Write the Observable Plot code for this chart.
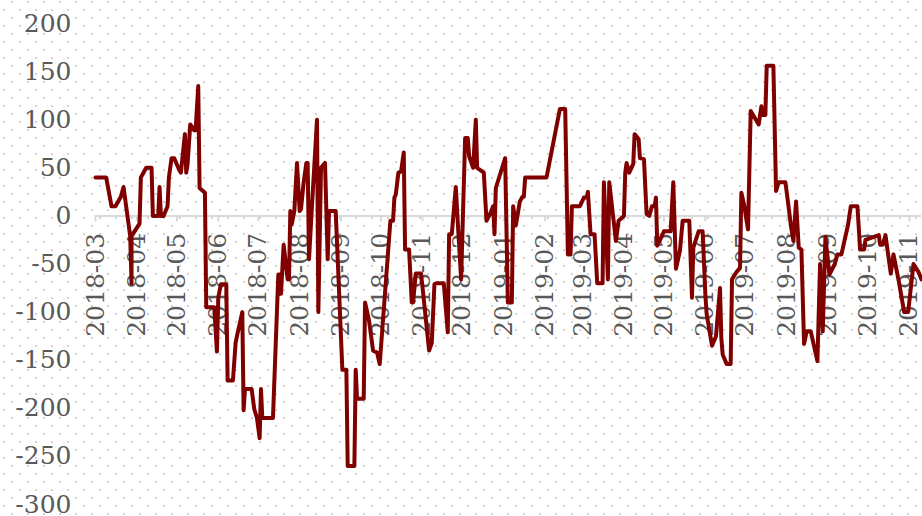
<!DOCTYPE html>
<html>
<head>
<meta charset="utf-8">
<script src="https://cdn.jsdelivr.net/npm/d3@7"></script>
<script src="https://cdn.jsdelivr.net/npm/@observablehq/plot@0.6"></script>
<style>
html, body { margin: 0; padding: 0; background: #ffffff; }
#chart {
  width: 922px; height: 516px; overflow: hidden;
  background-image: url("data:image/svg+xml;utf8,<svg xmlns='http://www.w3.org/2000/svg' width='16' height='16'><rect x='11' y='1' width='2' height='2' fill='%23d2d2d2'/><rect x='3' y='9' width='2' height='2' fill='%23d2d2d2'/></svg>");
}
</style>
</head>
<body>
<div id="chart"></div>
<script>
const dates = [
  "2018-03-01","2018-03-09","2018-03-13","2018-03-16","2018-03-20","2018-03-22","2018-03-27","2018-03-28","2018-03-28",
  "2018-04-03","2018-04-04","2018-04-08","2018-04-12","2018-04-13","2018-04-17","2018-04-18","2018-04-19","2018-04-21","2018-04-24","2018-04-25","2018-04-27","2018-04-29",
  "2018-05-03","2018-05-04","2018-05-07","2018-05-08","2018-05-09","2018-05-11","2018-05-14","2018-05-15","2018-05-17","2018-05-18","2018-05-22","2018-05-23","2018-05-29","2018-05-31",
  "2018-06-01","2018-06-03","2018-06-07","2018-06-08","2018-06-12","2018-06-14","2018-06-15","2018-06-19","2018-06-20","2018-06-21","2018-06-26","2018-06-28","2018-06-30",
  "2018-07-02","2018-07-03","2018-07-04","2018-07-12","2018-07-16","2018-07-17","2018-07-18","2018-07-20","2018-07-23","2018-07-24","2018-07-25","2018-07-26","2018-07-28","2018-07-30",
  "2018-08-01","2018-08-02","2018-08-04","2018-08-06","2018-08-07","2018-08-08","2018-08-10","2018-08-14","2018-08-15","2018-08-17","2018-08-20","2018-08-22","2018-08-23","2018-08-28",
  "2018-09-02","2018-09-05","2018-09-06","2018-09-11","2018-09-12","2018-09-13","2018-09-18","2018-09-19","2018-09-22","2018-09-25","2018-09-28","2018-09-30",
  "2018-10-08","2018-10-10","2018-10-11","2018-10-12","2018-10-14","2018-10-16","2018-10-18","2018-10-19","2018-10-22","2018-10-24","2018-10-25","2018-10-27","2018-10-31",
  "2018-11-06","2018-11-08","2018-11-10","2018-11-12","2018-11-17","2018-11-20","2018-11-21","2018-11-23","2018-11-26","2018-11-28","2018-11-30",
  "2018-12-03","2018-12-05","2018-12-06","2018-12-09","2018-12-11","2018-12-12","2018-12-17","2018-12-19","2018-12-22","2018-12-24","2018-12-25","2018-12-26",
  "2019-01-02","2019-01-04","2019-01-07","2019-01-08","2019-01-10","2019-01-13","2019-01-15","2019-01-16","2019-01-17",
  "2019-02-02","2019-02-12","2019-02-16","2019-02-18","2019-02-20","2019-02-21","2019-02-27",
  "2019-03-02","2019-03-04","2019-03-05","2019-03-07","2019-03-10","2019-03-12","2019-03-16","2019-03-17","2019-03-20","2019-03-21","2019-03-26","2019-03-28",
  "2019-04-01","2019-04-02","2019-04-03","2019-04-05","2019-04-08","2019-04-09","2019-04-12","2019-04-13","2019-04-16","2019-04-18","2019-04-20","2019-04-22","2019-04-24","2019-04-25","2019-04-26",
  "2019-05-01","2019-05-06","2019-05-08","2019-05-10","2019-05-13","2019-05-15","2019-05-20","2019-05-22","2019-05-23","2019-05-27","2019-05-30",
  "2019-06-01","2019-06-02","2019-06-06","2019-06-09","2019-06-12","2019-06-13","2019-06-14","2019-06-17","2019-06-20","2019-06-21","2019-06-24","2019-06-27","2019-06-28","2019-06-30",
  "2019-07-03","2019-07-05","2019-07-11","2019-07-13","2019-07-14","2019-07-16","2019-07-17","2019-07-22","2019-07-24","2019-07-26","2019-07-31",
  "2019-08-02","2019-08-04","2019-08-06","2019-08-08","2019-08-10","2019-08-12","2019-08-14","2019-08-16","2019-08-19","2019-08-24","2019-08-26","2019-08-28","2019-08-30",
  "2019-09-02","2019-09-06","2019-09-08","2019-09-11","2019-09-16","2019-09-18","2019-09-23","2019-09-25","2019-09-28","2019-09-29",
  "2019-10-09","2019-10-10","2019-10-12","2019-10-14","2019-10-18","2019-10-20","2019-10-24","2019-10-28","2019-10-31",
  "2019-11-04","2019-11-08","2019-11-10"
];
const values = [
  40,40,10,10,20,30,-21,-70,-21,
  -8,40,50,50,0,0,30,0,0,10,40,60,60,
  47,45,85,45,54,95,89,89,135,29,24,-95,-95,-141,
  -85,-71,-71,-171,-171,-132,-125,-100,-202,-180,-180,-201,-210,
  -231,-180,-210,-210,-61,-61,-81,-30,-66,-66,5,-9,5,55,
  5,7,35,55,55,-45,5,100,-100,50,55,-45,5,5,
  -160,-160,-260,-260,-160,-190,-190,-90,-109,-140,-142,-154,
  -5,-5,19,22,45,46,66,-35,-35,-90,-90,-60,-60,
  -140,-132,-71,-70,-70,-121,-19,-19,30,-19,-66,
  81,81,62,50,100,50,45,-5,3,10,-19,29,
  60,-90,-90,10,-10,15,20,20,40,
  40,111,111,-40,-40,10,10,
  19,19,25,-19,-19,-70,-70,35,-66,35,-26,-5,
  0,45,55,45,54,85,80,60,59,2,0,10,10,19,-31,
  -16,-16,35,-55,-36,-5,-5,-85,-33,-16,-16,
  -81,-102,-135,-125,-75,-127,-144,-154,-154,-66,-59,-54,24,12,
  -14,109,95,114,105,105,156,156,26,35,35,
  14,-9,-26,15,-33,-35,-133,-120,-120,-151,-50,-120,-22,
  -61,-50,-40,-40,-9,10,10,-35,-35,-25,
  -20,-30,-30,-20,-60,-40,-68,-100,-100,
  -50,-59,-66
];
const monthLabels = [
  "2018-03","2018-04","2018-05","2018-06","2018-07","2018-08","2018-09","2018-10","2018-11","2018-12",
  "2019-01","2019-02","2019-03","2019-04","2019-05","2019-06","2019-07","2019-08","2019-09","2019-10","2019-11"
];
const yTicks = [-300, -250, -200, -150, -100, -50, 0, 50, 100, 150, 200];
const xStart = "2018-03-01";
const xEnd = "2019-11-10";

const series = dates.map((d, i) => ({date: new Date(d), value: values[i]}));
const months = monthLabels.map(m => ({date: new Date(m + "-01"), label: m}));

const font = "'DejaVu Serif', serif";
const textColor = "#595959";
const axisColor = "#d9d9d9";

const chart = Plot.plot({
  width: 922,
  height: 516,
  marginLeft: 95,
  marginRight: 1,
  marginTop: 23,
  marginBottom: 12,
  style: {background: "transparent", fontFamily: font, overflow: "visible"},
  x: {type: "utc", domain: [new Date(xStart), new Date(xEnd)], axis: null},
  y: {domain: [-300, 200]},
  marks: [
    Plot.axisY(yTicks, {tickSize: 0, tickPadding: 24, fontSize: 25, fill: textColor, label: null, tickFormat: d => String(d)}),
    Plot.ruleY([0], {stroke: axisColor, strokeWidth: 2}),
    Plot.ruleX(months, {x: "date", y1: 0, y2: 0, insetBottom: -6, stroke: axisColor, strokeWidth: 2}),
    Plot.text(months, {x: "date", y: 0, text: "label", rotate: -90, textAnchor: "end", dy: 17, fontSize: 25, fill: textColor}),
    Plot.line(series, {x: "date", y: "value", stroke: "#800000", strokeWidth: 4, strokeLinejoin: "round", strokeLinecap: "round"})
  ]
});
document.getElementById("chart").appendChild(chart);
</script>
</body>
</html>
